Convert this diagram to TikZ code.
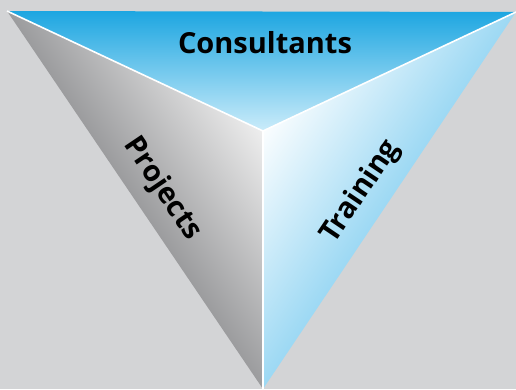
\documentclass[tikz,border=0pt]{standalone}
\usepackage{fontspec}
\setmainfont{Open Sans}
\definecolor{bgGray}{HTML}{D3D4D6}
\definecolor{consTop}{HTML}{1DA6E1}
\definecolor{consBot}{HTML}{CBECFA}
\definecolor{projDark}{HTML}{45464A}
\definecolor{projLight}{HTML}{F2F2F2}
\definecolor{trainLight}{HTML}{FFFFFF}
\definecolor{trainBlue}{HTML}{3AB2E8}
\tikzset{
	label/.style={font=\fontsize{29}{32}\selectfont\bfseries, text=black, inner sep=0pt},
	seam/.style={white, line width=1.6pt}
}
\begin{document}
\begin{tikzpicture}[x=1pt, y=1pt]
		\fill[bgGray] (0, 0) rectangle (516, 389);
		\useasboundingbox (0, 0) rectangle (516, 389);
		\coordinate (tl) at (7, 378);
		\coordinate (tr) at (516, 377);
		\coordinate (mid) at (263, 258);
		\coordinate (bot) at (263, 0);
		% three faces
		\shade[top color=consTop, bottom color=consBot] (tl)--(tr)--(mid)--cycle;
		\shade[top color=projLight, bottom color=projDark, shading angle=-56] (tl)--(mid)--(bot)--cycle;
		\shade[top color=trainLight, bottom color=trainBlue, shading angle=56] (tr)--(mid)--(bot)--cycle;
		% white seams
		\draw[seam] (tl)--(mid);
		\draw[seam] (tr)--(mid);
		\draw[seam] (mid)--(bot);
		\node[label] (cons) at (265, 346) {Consultants};
		\node[label, rotate=-56] (proj) at (162, 200) {Projects};
		\node[label, rotate=56] (train) at (361, 197) {Training};
	\end{tikzpicture}
\end{document}
